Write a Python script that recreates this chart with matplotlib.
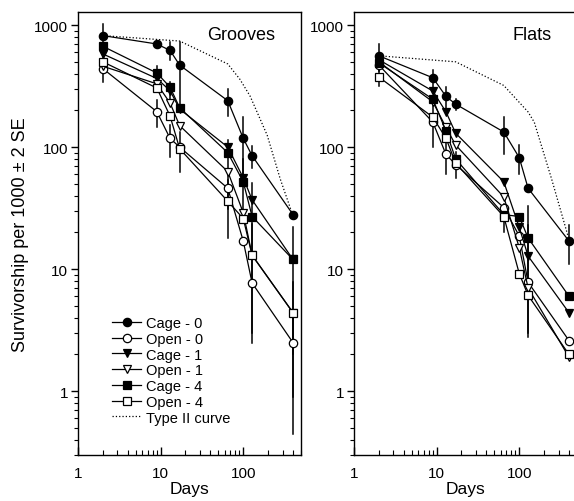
import matplotlib
matplotlib.use("Agg")
import matplotlib.pyplot as plt
from matplotlib.ticker import LogLocator, FixedLocator, NullFormatter, FixedFormatter

plt.rcParams['font.family'] = ['Liberation Sans', 'DejaVu Sans']

days = [2, 9, 13, 17, 65, 100, 128, 400]
labels = ['Cage - 0', 'Open - 0', 'Cage - 1', 'Open - 1', 'Cage - 4', 'Open - 4']

# Grooves survivorship (per 1000)
g_cage0 = [820, 700, 620, 470, 240, 118, 85, 28]
g_open0 = [440, 195, 118, 100, 46, 17, 7.7, 2.5]
g_cage1 = [580, 365, 290, 205, 100, 56, 37, 12]
g_open1 = [460, 330, 230, 150, 63, 29, 13, 4.4]
g_cage4 = [670, 405, 310, 210, 90, 52, 27, 12]
g_open4 = [500, 305, 180, 97, 36, 26, 13, 4.4]
# 2 SE (0 = no bar drawn)
g_err = [
    [200, 0, 100, 250, 60, 58, 18, 0],
    [100, 48, 35, 0, 15, 0, 0, 2.05],
    [0, 0, 50, 0, 0, 0, 0, 0],
    [0, 0, 0, 0, 0, 0, 0, 0],
    [0, 60, 0, 0, 25, 28, 24, 10],
    [0, 0, 0, 35, 18, 0, 10.5, 3.5],
]
# Type II curve
g_type2_x = [2, 17, 65, 91, 121, 195, 280, 395]
g_type2_y = [820, 740, 480, 360, 262, 125, 55, 28]

# Flats survivorship (per 1000)
f_cage0 = [560, 370, 260, 225, 133, 82, 46, 17]
f_open0 = [470, 160, 87, 72, 32, 18.7, 7.8, 2.6]
f_cage1 = [520, 288, 194, 130, 52, 22, 12.8, 4.4]
f_open1 = [500, 235, 145, 104, 39, 15, 7.0, 1.9]
f_cage4 = [490, 247, 135, 80, 28, 27, 18, 6.0]
f_open4 = [375, 176, 118, 74, 27, 9.2, 6.1, 2.0]
f_err = [
    [140, 60, 50, 25, 45, 22, 0, 6],
    [0, 60, 27, 0, 0, 0, 0, 0],
    [0, 0, 0, 0, 0, 0, 10, 0],
    [0, 0, 0, 0, 0, 0, 0, 0],
    [0, 0, 0, 0, 0, 0, 15, 0],
    [60, 0, 0, 18, 7, 0, 0, 0],
]
f_type2_x = [2, 17, 65, 128, 152, 246, 405]
f_type2_y = [560, 500, 320, 194, 160, 55, 17]

markers = ['o', 'o', 'v', 'v', 's', 's']
faces = ['black', 'white', 'black', 'white', 'black', 'white']

fig = plt.figure(figsize=(5.74, 5.02), dpi=100)
ax1 = fig.add_axes([78/574, 46/502, 223/574, 443/502])
ax2 = fig.add_axes([354/574, 46/502, 223/574, 443/502])


def panel(ax, series, errs, tx, ty, title):
    t2, = ax.plot(tx, ty, ':', color='black', lw=0.9, label='Type II curve', zorder=1)
    handles = []
    for s, e, m, fc, lab in zip(series, errs, markers, faces, labels):
        for x, y, d in zip(days, s, e):
            if d > 0:
                ax.plot([x, x], [max(y - d, 0.31), y + d], color='black', lw=1.1, zorder=2)
        h, = ax.plot(days, s, '-', color='black', lw=0.9, marker=m, mfc=fc, mec='black',
                     mew=0.9, ms=6, label=lab, zorder=3)
        handles.append(h)
    handles.append(t2)
    ax.set_xscale('log')
    ax.set_yscale('log')
    ax.set_xlim(1, 500)
    ax.set_ylim(0.3, 1280)
    ax.xaxis.set_major_locator(FixedLocator([1, 10, 100]))
    ax.xaxis.set_major_formatter(FixedFormatter(['1', '10', '100']))
    ax.xaxis.set_minor_locator(LogLocator(base=10, subs=range(2, 10)))
    ax.xaxis.set_minor_formatter(NullFormatter())
    ax.yaxis.set_major_locator(FixedLocator([1, 10, 100, 1000]))
    ax.yaxis.set_major_formatter(FixedFormatter(['1', '10', '100', '1000']))
    ax.yaxis.set_minor_locator(LogLocator(base=10, subs=range(2, 10)))
    ax.yaxis.set_minor_formatter(NullFormatter())
    ax.tick_params(axis='x', which='major', direction='in', length=6, width=1, labelsize=11, pad=8)
    ax.tick_params(axis='x', which='minor', direction='in', length=3.5, width=0.8)
    ax.tick_params(axis='y', which='major', direction='out', length=5, width=1, labelsize=11, pad=2)
    ax.tick_params(axis='y', which='minor', direction='out', length=3, width=0.8)
    for sp in ax.spines.values():
        sp.set_linewidth(1)
    ax.set_xlabel('Days', fontsize=12.5, labelpad=1)
    ax.text(0.885, 0.95, title, transform=ax.transAxes, ha='right', va='center', fontsize=13)
    return handles


hg = panel(ax1, [g_cage0, g_open0, g_cage1, g_open1, g_cage4, g_open4], g_err,
           g_type2_x, g_type2_y, 'Grooves')
panel(ax2, [f_cage0, f_open0, f_cage1, f_open1, f_cage4, f_open4], f_err,
      f_type2_x, f_type2_y, 'Flats')

ax1.set_ylabel('Survivorship per 1000 \u00b1 2 SE', fontsize=13, labelpad=4)

ax1.legend(handles=hg, loc='upper left', bbox_to_anchor=(0.12, 0.33), frameon=False,
           fontsize=10.5, handlelength=2.0, handletextpad=0.3, labelspacing=0.12, borderpad=0)

fig.savefig('out.png', dpi=100)
